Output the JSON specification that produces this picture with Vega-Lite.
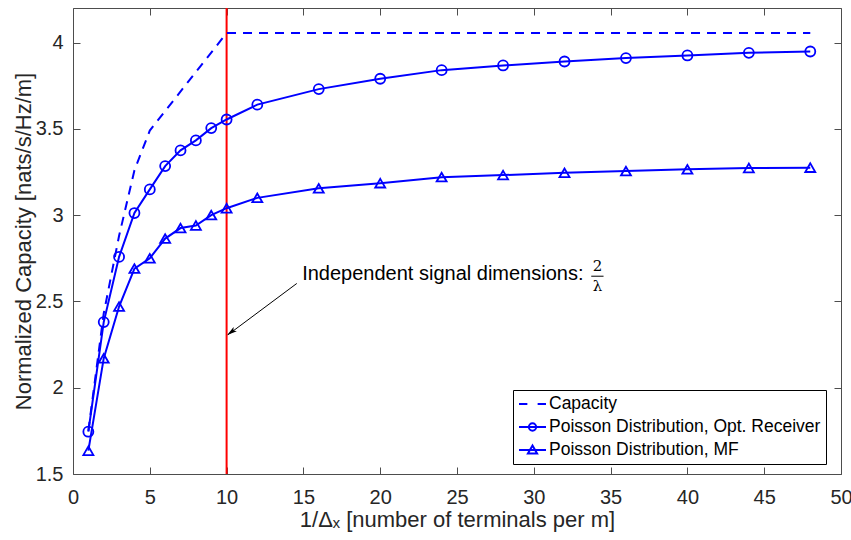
{
  "$schema": "https://vega.github.io/schema/vega-lite/v6.json",
  "width": 768,
  "height": 466,
  "autosize": {"type": "none"},
  "padding": {"left": 73, "top": 8, "right": 10, "bottom": 66},
  "background": "white",
  "config": {
    "view": {"stroke": "#4d4d4d", "strokeWidth": 1},
    "font": "Liberation Sans",
    "axis": {
      "domain": false, "grid": false, "tickSize": -7, "tickColor": "#4d4d4d", "tickWidth": 1,
      "labelFont": "Liberation Sans", "labelFontSize": 20, "labelColor": "#262626",
      "titleFont": "Liberation Sans", "titleFontSize": 22, "titleFontWeight": "normal", "titleColor": "#262626",
      "labelFlush": false, "labelOverlap": false
    }
  },
  "datasets": {
    "curves": [
      {"series": "Capacity", "x": 1, "y": 1.75},
      {"series": "Capacity", "x": 2, "y": 2.43},
      {"series": "Capacity", "x": 3, "y": 2.88},
      {"series": "Capacity", "x": 4, "y": 3.26},
      {"series": "Capacity", "x": 5, "y": 3.49},
      {"series": "Capacity", "x": 10, "y": 4.055},
      {"series": "Capacity", "x": 48, "y": 4.055},
      {"series": "Poisson Distribution, Opt. Receiver", "x": 1, "y": 1.745},
      {"series": "Poisson Distribution, Opt. Receiver", "x": 2, "y": 2.38},
      {"series": "Poisson Distribution, Opt. Receiver", "x": 3, "y": 2.758},
      {"series": "Poisson Distribution, Opt. Receiver", "x": 4, "y": 3.012},
      {"series": "Poisson Distribution, Opt. Receiver", "x": 5, "y": 3.149},
      {"series": "Poisson Distribution, Opt. Receiver", "x": 6, "y": 3.284},
      {"series": "Poisson Distribution, Opt. Receiver", "x": 7, "y": 3.375},
      {"series": "Poisson Distribution, Opt. Receiver", "x": 8, "y": 3.433},
      {"series": "Poisson Distribution, Opt. Receiver", "x": 9, "y": 3.504},
      {"series": "Poisson Distribution, Opt. Receiver", "x": 10, "y": 3.554},
      {"series": "Poisson Distribution, Opt. Receiver", "x": 12, "y": 3.64},
      {"series": "Poisson Distribution, Opt. Receiver", "x": 16, "y": 3.73},
      {"series": "Poisson Distribution, Opt. Receiver", "x": 20, "y": 3.79},
      {"series": "Poisson Distribution, Opt. Receiver", "x": 24, "y": 3.84},
      {"series": "Poisson Distribution, Opt. Receiver", "x": 28, "y": 3.867},
      {"series": "Poisson Distribution, Opt. Receiver", "x": 32, "y": 3.89},
      {"series": "Poisson Distribution, Opt. Receiver", "x": 36, "y": 3.91},
      {"series": "Poisson Distribution, Opt. Receiver", "x": 40, "y": 3.925},
      {"series": "Poisson Distribution, Opt. Receiver", "x": 44, "y": 3.94},
      {"series": "Poisson Distribution, Opt. Receiver", "x": 48, "y": 3.948},
      {"series": "Poisson Distribution, MF", "x": 1, "y": 1.635},
      {"series": "Poisson Distribution, MF", "x": 2, "y": 2.17},
      {"series": "Poisson Distribution, MF", "x": 3, "y": 2.47},
      {"series": "Poisson Distribution, MF", "x": 4, "y": 2.69},
      {"series": "Poisson Distribution, MF", "x": 5, "y": 2.75},
      {"series": "Poisson Distribution, MF", "x": 6, "y": 2.864},
      {"series": "Poisson Distribution, MF", "x": 7, "y": 2.925},
      {"series": "Poisson Distribution, MF", "x": 8, "y": 2.94},
      {"series": "Poisson Distribution, MF", "x": 9, "y": 3.0},
      {"series": "Poisson Distribution, MF", "x": 10, "y": 3.04},
      {"series": "Poisson Distribution, MF", "x": 12, "y": 3.1},
      {"series": "Poisson Distribution, MF", "x": 16, "y": 3.155},
      {"series": "Poisson Distribution, MF", "x": 20, "y": 3.185},
      {"series": "Poisson Distribution, MF", "x": 24, "y": 3.22},
      {"series": "Poisson Distribution, MF", "x": 28, "y": 3.232},
      {"series": "Poisson Distribution, MF", "x": 32, "y": 3.245},
      {"series": "Poisson Distribution, MF", "x": 36, "y": 3.255},
      {"series": "Poisson Distribution, MF", "x": 40, "y": 3.265},
      {"series": "Poisson Distribution, MF", "x": 44, "y": 3.273},
      {"series": "Poisson Distribution, MF", "x": 48, "y": 3.275}
    ],
    "marker": [{"x": 10}],
    "note": [{"x": 14.92, "y": 2.623, "text": "Independent signal dimensions:"}],
    "frac": [{"x": 34.15, "y": 2.706, "text": "2"}, {"x": 34.15, "y": 2.59, "text": "λ"}],
    "fracbar": [{"x": 33.74, "x2": 34.54, "y": 2.646}],
    "arrow": [{"x": 14.57, "y": 2.604, "x2": 10.08, "y2": 2.306}],
    "arrowhead": [{"x": 10.3, "y": 2.322}]
  },
  "layer": [
    {
      "data": {"name": "marker"},
      "mark": {"type": "rule", "color": "#ff0000", "strokeWidth": 2},
      "encoding": {
        "x": {"field": "x", "type": "quantitative", "scale": {"domain": [0, 50], "nice": false, "zero": false},
          "axis": {"orient": "bottom", "values": [0, 5, 10, 15, 20, 25, 30, 35, 40, 45, 50], "title": "1/Δₓ [number of terminals per m]", "labelPadding": 20, "titlePadding": 2}}
      }
    },
    {
      "data": {"name": "curves"},
      "transform": [{"filter": "datum.series === 'Capacity'"}],
      "mark": {"type": "line", "color": "#0000ff", "strokeWidth": 2, "strokeDash": [9, 7]},
      "encoding": {
        "x": {"field": "x", "type": "quantitative", "scale": {"domain": [0, 50], "nice": false, "zero": false},
          "axis": {"orient": "top", "values": [0, 5, 10, 15, 20, 25, 30, 35, 40, 45, 50], "labels": false, "title": null}},
        "y": {"field": "y", "type": "quantitative", "scale": {"domain": [1.5, 4.2], "nice": false, "zero": false},
          "axis": {"orient": "left", "values": [1.5, 2, 2.5, 3, 3.5, 4], "format": "~g", "title": "Normalized Capacity [nats/s/Hz/m]", "labelPadding": 17, "titlePadding": 0}}
      }
    },
    {
      "data": {"name": "curves"},
      "transform": [{"filter": "datum.series !== 'Capacity'"}],
      "mark": {"type": "line", "color": "#0000ff", "strokeWidth": 2},
      "encoding": {
        "x": {"field": "x", "type": "quantitative", "scale": {"domain": [0, 50], "nice": false, "zero": false}, "axis": null},
        "y": {"field": "y", "type": "quantitative", "scale": {"domain": [1.5, 4.2], "nice": false, "zero": false}, "axis": null},
        "detail": {"field": "series", "type": "nominal"}
      }
    },
    {
      "data": {"name": "curves"},
      "transform": [{"filter": "datum.series === 'Poisson Distribution, Opt. Receiver'"}],
      "mark": {"type": "point", "shape": "circle", "filled": false, "color": "#0000ff", "strokeWidth": 1.8, "size": 100, "opacity": 1},
      "encoding": {
        "x": {"field": "x", "type": "quantitative", "scale": {"domain": [0, 50], "nice": false, "zero": false}, "axis": null},
        "y": {"field": "y", "type": "quantitative", "scale": {"domain": [1.5, 4.2], "nice": false, "zero": false},
          "axis": {"orient": "right", "values": [1.5, 2, 2.5, 3, 3.5, 4], "labels": false, "title": null}}
      }
    },
    {
      "data": {"name": "curves"},
      "transform": [{"filter": "datum.series === 'Poisson Distribution, MF'"}],
      "mark": {"type": "point", "shape": "triangle-up", "filled": false, "color": "#0000ff", "strokeWidth": 1.8, "size": 100, "opacity": 1},
      "encoding": {
        "x": {"field": "x", "type": "quantitative", "scale": {"domain": [0, 50], "nice": false, "zero": false}, "axis": null},
        "y": {"field": "y", "type": "quantitative", "scale": {"domain": [1.5, 4.2], "nice": false, "zero": false}, "axis": null}
      }
    },
    {
      "data": {"name": "curves"},
      "mark": {"type": "point", "filled": false, "color": "#0000ff", "opacity": 0, "size": 729},
      "encoding": {
        "x": {"field": "x", "type": "quantitative", "scale": {"domain": [0, 50], "nice": false, "zero": false}, "axis": null},
        "y": {"field": "y", "type": "quantitative", "scale": {"domain": [1.5, 4.2], "nice": false, "zero": false}, "axis": null},
        "shape": {"field": "series", "type": "nominal",
          "scale": {"domain": ["Capacity", "Poisson Distribution, Opt. Receiver", "Poisson Distribution, MF"],
            "range": ["M-1,0H-0.38M0.38,0H1", "M-1,0H1M0.27,0A0.27,0.27,0,1,1,-0.27,0A0.27,0.27,0,1,1,0.27,0Z", "M-1,0H1M0,-0.33L0.34,0.26L-0.34,0.26Z"]},
          "legend": {"orient": "none", "legendX": 440, "legendY": 382, "title": null,
            "symbolSize": 729, "symbolStrokeWidth": 2, "symbolStrokeColor": "#0000ff", "symbolFillColor": "transparent", "symbolOpacity": 1,
            "labelFont": "Liberation Sans", "labelFontSize": 17.5, "labelColor": "#000000", "labelOffset": 2, "labelLimit": 500,
            "strokeColor": "#000000", "fillColor": "#ffffff", "padding": 5, "rowPadding": 5, "clipHeight": 18, "symbolOffset": 0}}
      }
    },
    {
      "data": {"name": "arrow"},
      "mark": {"type": "rule", "color": "#000000", "strokeWidth": 1},
      "encoding": {
        "x": {"field": "x", "type": "quantitative", "scale": {"domain": [0, 50], "nice": false, "zero": false}, "axis": null},
        "y": {"field": "y", "type": "quantitative", "scale": {"domain": [1.5, 4.2], "nice": false, "zero": false}, "axis": null},
        "x2": {"field": "x2"},
        "y2": {"field": "y2"}
      }
    },
    {
      "data": {"name": "arrowhead"},
      "mark": {"type": "point", "shape": "M0,-1L0.55,1L0,0.55L-0.55,1Z", "filled": true, "color": "#000000", "opacity": 1, "size": 100, "angle": 233.5},
      "encoding": {
        "x": {"field": "x", "type": "quantitative", "scale": {"domain": [0, 50], "nice": false, "zero": false}, "axis": null},
        "y": {"field": "y", "type": "quantitative", "scale": {"domain": [1.5, 4.2], "nice": false, "zero": false}, "axis": null}
      }
    },
    {
      "data": {"name": "note"},
      "mark": {"type": "text", "align": "left", "baseline": "alphabetic", "font": "Liberation Sans", "fontSize": 20, "color": "#000000"},
      "encoding": {
        "x": {"field": "x", "type": "quantitative", "scale": {"domain": [0, 50], "nice": false, "zero": false}, "axis": null},
        "y": {"field": "y", "type": "quantitative", "scale": {"domain": [1.5, 4.2], "nice": false, "zero": false}, "axis": null},
        "text": {"field": "text"}
      }
    },
    {
      "data": {"name": "frac"},
      "mark": {"type": "text", "align": "center", "baseline": "middle", "font": "DejaVu Serif", "fontSize": 15, "color": "#000000"},
      "encoding": {
        "x": {"field": "x", "type": "quantitative", "scale": {"domain": [0, 50], "nice": false, "zero": false}, "axis": null},
        "y": {"field": "y", "type": "quantitative", "scale": {"domain": [1.5, 4.2], "nice": false, "zero": false}, "axis": null},
        "text": {"field": "text"}
      }
    },
    {
      "data": {"name": "fracbar"},
      "mark": {"type": "rule", "color": "#000000", "strokeWidth": 1},
      "encoding": {
        "x": {"field": "x", "type": "quantitative", "scale": {"domain": [0, 50], "nice": false, "zero": false}, "axis": null},
        "x2": {"field": "x2"},
        "y": {"field": "y", "type": "quantitative", "scale": {"domain": [1.5, 4.2], "nice": false, "zero": false}, "axis": null}
      }
    }
  ],
  "resolve": {"axis": {"x": "independent", "y": "independent"}}
}
